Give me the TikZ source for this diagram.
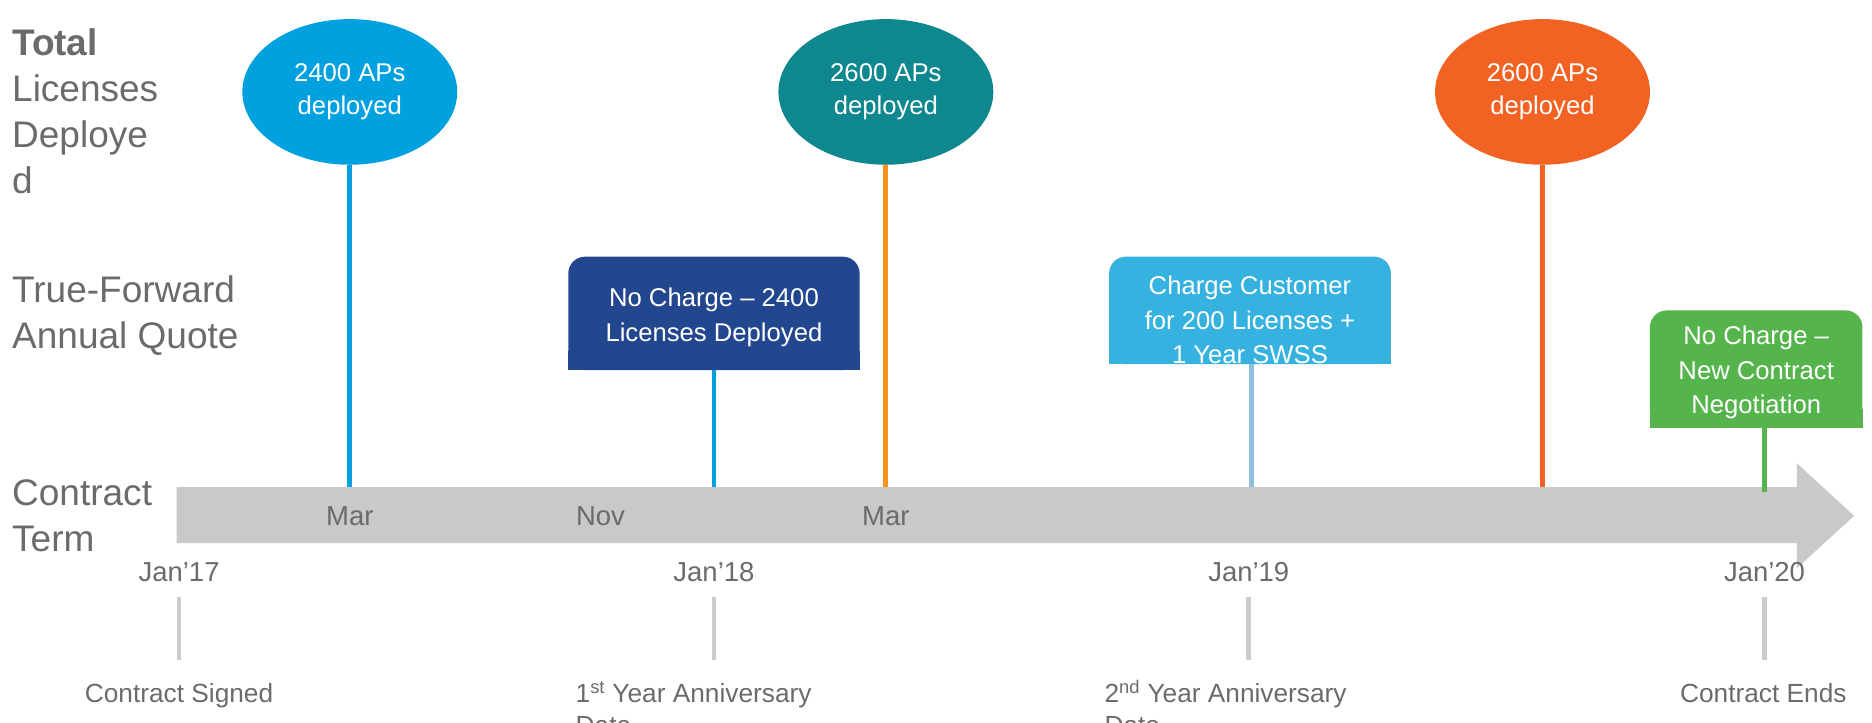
\documentclass[tikz,border=0pt]{standalone}
\usepackage{fontspec}
\setmainfont{Liberation Sans}
\usetikzlibrary{shapes.geometric,backgrounds}
\definecolor{txtgray}{HTML}{6B6B6B}
\definecolor{arrowgray}{HTML}{C9C9C9}
\definecolor{tickgray}{HTML}{CCCCCC}
\definecolor{eblue}{HTML}{00A1DE}
\definecolor{eteal}{HTML}{0E878E}
\definecolor{eorange}{HTML}{F26223}
\definecolor{lorange}{HTML}{F7941E}
\definecolor{bdark}{HTML}{22478F}
\definecolor{blight}{HTML}{35B2DF}
\definecolor{lpale}{HTML}{8FBFDB}
\definecolor{bgreen}{HTML}{56B44C}
\begin{document}
\begin{tikzpicture}[x=1pt,y=-1pt,
  lbl/.style={text=txtgray, font=\fontsize{31}{38.5}\selectfont, align=left, inner sep=0pt},
  ell/.style={ellipse, minimum width=180pt, minimum height=122pt, inner sep=0pt, text=white, font=\fontsize{21.5}{28}\selectfont, align=center},
  boxshape/.style={rectangle, rounded corners=14pt, inner sep=0pt},
  boxtext/.style={text=white, font=\fontsize{21.5}{29}\selectfont, align=center, inner sep=0pt},
  vline/.style={line width=4pt},
  tickline/.style={line width=4pt, draw=tickgray},
  small/.style={text=txtgray, font=\fontsize{22}{27}\selectfont, inner sep=0pt, align=left},
  datelbl/.style={text=txtgray, font=\fontsize{23}{27}\selectfont, inner sep=0pt}]
\useasboundingbox (0,0) rectangle (1568,604.8);
\clip (0,0) rectangle (1568,604.8);

% left labels (anchored at the baseline of their last line)
\node[lbl, anchor=base west] (ltot) at (10,162) {\textbf{Total}\\Licenses\\Deploye\\d};
\node[lbl, anchor=base west] (ltf) at (10,292) {True-Forward\\Annual Quote};
\node[lbl, anchor=base west] (lct) at (10,462) {Contract\\Term};

% main arrow
\fill[arrowgray] (148,408) -- (1505,408) -- (1505,388) -- (1553,432) -- (1505,476) -- (1505,455) -- (148,455) -- cycle;
\coordinate (a1) at (293,408);
\coordinate (a2) at (598,408);
\coordinate (a3) at (742,408);
\coordinate (a4) at (1048,408);
\coordinate (a5) at (1292,408);
\coordinate (a6) at (1478,412);

% month labels
\node[datelbl, anchor=base] (m1) at (293,440) {Mar};
\node[datelbl, anchor=base] (m2) at (503,440) {Nov};
\node[datelbl, anchor=base] (m3) at (742,440) {Mar};

% year labels
\node[datelbl, anchor=base] (y17) at (150,487) {Jan’17};
\node[datelbl, anchor=base] (y18) at (598,487) {Jan’18};
\node[datelbl, anchor=base] (y19) at (1046,487) {Jan’19};
\node[datelbl, anchor=base] (y20) at (1478,487) {Jan’20};

% ticks
\coordinate (t17a) at (150,500); \coordinate (t17b) at (150,553);
\coordinate (t18a) at (598,500); \coordinate (t18b) at (598,553);
\coordinate (t19a) at (1046,500); \coordinate (t19b) at (1046,553);
\coordinate (t20a) at (1478,500); \coordinate (t20b) at (1478,553);
\draw[tickline] (t17a) -- (t17b);
\draw[tickline] (t18a) -- (t18b);
\draw[tickline] (t19a) -- (t19b);
\draw[tickline] (t20a) -- (t20b);

% bottom labels
\node[small, anchor=base] (bl1) at (150,588) {Contract Signed};
\node[small, anchor=base west] (bl2) at (482,615) {1\textsuperscript{st} Year Anniversary\\Date};
\node[small, anchor=base west] (bl3) at (925,615) {2\textsuperscript{nd} Year Anniversary\\Date};
\node[small, anchor=base] (bl4) at (1477,588) {Contract Ends};

% ellipses
\node[ell, fill=eblue] (e1) at (293,77) {2400 APs\\deployed};
\node[ell, fill=eteal] (e2) at (742,77) {2600 APs\\deployed};
\node[ell, fill=eorange] (e3) at (1292,77) {2600 APs\\deployed};
\draw[vline, draw=eblue] (e1.south) -- (a1);
\draw[vline, draw=lorange] (e2.south) -- (a3);
\draw[vline, draw=eorange] (e3.south) -- (a5);

% boxes (rounded top corners, square bottom corners)
\node[boxshape, fill=bdark, minimum width=244pt, minimum height=95pt] (b1) at (598,262.5) {};
\node[boxshape, fill=blight, minimum width=236pt, minimum height=90pt] (b2) at (1047,260) {};
\node[boxshape, fill=bgreen, minimum width=178pt, minimum height=98pt] (b3) at (1471,309) {};
\begin{scope}[on background layer]
\fill[bdark] ([yshift=16pt]b1.south west) rectangle (b1.south east);
\fill[blight] ([yshift=16pt]b2.south west) rectangle (b2.south east);
\fill[bgreen] ([yshift=16pt]b3.south west) rectangle (b3.south east);
\end{scope}
\node[boxtext] (b1t) at (598,266) {No Charge – 2400\\Licenses Deployed};
\node[boxtext] (b2t) at (1047,268) {Charge Customer\\for 200 Licenses +\\1 Year SWSS};
\node[boxtext] (b3t) at (1471,312) {No Charge –\\New Contract\\Negotiation};
\draw[vline, draw=eblue] (b1.south) -- (a2);
\draw[vline, draw=lpale] (b2.south -| a4) -- (a4);
\draw[vline, draw=bgreen] (b3.south -| a6) -- (a6);
\end{tikzpicture}
\end{document}
